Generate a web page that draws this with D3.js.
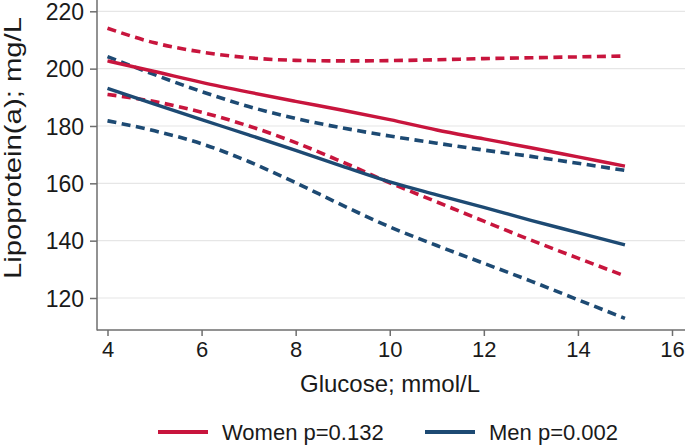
<!DOCTYPE html>
<html>
<head>
<meta charset="utf-8">
<script src="https://cdn.jsdelivr.net/npm/d3@7"></script>
<style>
  html, body { margin: 0; padding: 0; background: #fff; }
  svg { display: block; font-family: "Liberation Sans", Arial, sans-serif; }
</style>
</head>
<body>
<svg id="chart" width="685" height="448"></svg>
<script>
// ---- data ----
const glucose = [4, 5, 6, 7, 8, 9, 10, 11, 12, 13, 14, 15];
const womenFit   = [202.7, 199.0, 195.2, 191.8, 188.6, 185.5, 182.2, 178.6, 175.5, 172.4, 169.2, 166.0];
const womenUpper = [214.1, 209.0, 205.8, 203.8, 202.9, 202.7, 202.8, 203.1, 203.5, 203.8, 204.1, 204.4];
const womenLower = [191.0, 188.5, 184.8, 180.0, 174.2, 167.4, 160.2, 153.5, 146.8, 140.2, 133.9, 127.7];
const menFit     = [193.1, 187.6, 182.2, 176.9, 171.5, 165.9, 160.5, 156.0, 151.6, 147.1, 142.8, 138.5];
const menUpper   = [204.2, 197.9, 192.0, 186.8, 182.6, 179.3, 176.5, 174.0, 171.6, 169.4, 167.0, 164.5];
const menLower   = [181.8, 178.3, 173.8, 167.6, 160.2, 152.3, 144.8, 138.3, 132.1, 125.9, 119.4, 112.9];
const xTicks = [4, 6, 8, 10, 12, 14, 16];
const yTicks = [120, 140, 160, 180, 200, 220];
const legendLabels = ["Women p=0.132", "Men p=0.002"];
const xTitle = "Glucose; mmol/L";
const yTitle = "Lipoprotein(a); mg/L";

// ---- styles ----
const RED = "#c8153d";
const BLUE = "#1d4a73";
const AXIS = "#6e6e6e";

const svg = d3.select("#chart");
const x = d3.scaleLinear().domain([4, 16]).range([107.5, 672]);
const y = d3.scaleLinear().domain([120, 220]).range([298, 11.3]);
const plotLeft = 97, plotRight = 685, axisY = 330;

// gridlines
svg.append("g").selectAll("line").data(yTicks).join("line")
  .attr("x1", plotLeft).attr("x2", plotRight)
  .attr("y1", d => y(d)).attr("y2", d => y(d))
  .attr("stroke", "#e6e6e6").attr("stroke-width", 1.2);

// y axis
const yAxis = svg.append("g").attr("transform", `translate(${plotLeft},0)`)
  .call(d3.axisLeft(y).tickValues(yTicks).tickSize(7).tickPadding(6).tickSizeOuter(0));
yAxis.select(".domain").remove();
yAxis.append("line").attr("x1", 0).attr("x2", 0).attr("y1", 0).attr("y2", axisY + 0.5)
  .attr("stroke", AXIS).attr("stroke-width", 1.5);
yAxis.selectAll(".tick line").attr("stroke", AXIS).attr("stroke-width", 1.5);
yAxis.selectAll(".tick text").attr("fill", "#1a1a1a").style("font-size", "23px")
  .attr("dy", "0.36em");

// x axis
const xAxis = svg.append("g").attr("transform", `translate(0,${axisY})`)
  .call(d3.axisBottom(x).tickValues(xTicks).tickSize(6).tickPadding(5).tickSizeOuter(0));
xAxis.select(".domain").remove();
xAxis.append("line").attr("x1", plotLeft).attr("x2", plotRight).attr("y1", 0).attr("y2", 0)
  .attr("stroke", AXIS).attr("stroke-width", 1.5);
xAxis.selectAll(".tick line").attr("stroke", AXIS).attr("stroke-width", 1.5);
xAxis.selectAll(".tick text").attr("fill", "#1a1a1a").style("font-size", "22px");

// titles
svg.append("text").attr("x", 390).attr("y", 392).attr("text-anchor", "middle")
  .style("font-size", "24px").attr("fill", "#1a1a1a").text(xTitle);
svg.append("text").attr("transform", "translate(20.5,148) rotate(-90)").attr("text-anchor", "middle")
  .style("font-size", "24px").attr("fill", "#1a1a1a")
  .attr("textLength", 262).attr("lengthAdjust", "spacingAndGlyphs").text(yTitle);

// lines
const series = [
  { v: womenUpper, c: RED, dash: "9,5.5", w: 3.6 },
  { v: womenLower, c: RED, dash: "9,5.5", w: 3.6 },
  { v: menUpper, c: BLUE, dash: "9,5.5", w: 3.6 },
  { v: menLower, c: BLUE, dash: "9,5.5", w: 3.6 },
  { v: womenFit, c: RED, dash: null, w: 3.4 },
  { v: menFit, c: BLUE, dash: null, w: 3.4 }
];
const line = d3.line().x(d => x(d[0])).y(d => y(d[1])).curve(d3.curveMonotoneX);
svg.append("g").selectAll("path").data(series).join("path")
  .attr("d", s => line(glucose.map((g, i) => [g, s.v[i]])))
  .attr("fill", "none").attr("stroke", s => s.c).attr("stroke-width", s => s.w)
  .attr("stroke-dasharray", s => s.dash);

// legend
const legend = [
  { label: legendLabels[0], c: RED, x0: 158 },
  { label: legendLabels[1], c: BLUE, x0: 425 }
];
const lg = svg.append("g").selectAll("g").data(legend).join("g")
  .attr("transform", d => `translate(${d.x0},432)`);
lg.append("line").attr("x1", 0).attr("x2", 50).attr("y1", 0).attr("y2", 0)
  .attr("stroke", d => d.c).attr("stroke-width", 4);
lg.append("text").attr("x", 64).attr("y", 0).attr("dy", "0.36em")
  .style("font-size", "22px").attr("fill", "#1a1a1a").text(d => d.label);
</script>
</body>
</html>
